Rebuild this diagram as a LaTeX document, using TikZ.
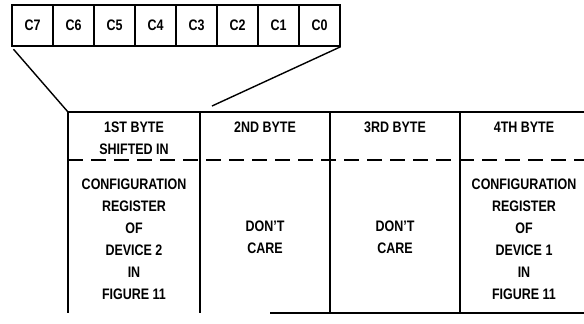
\documentclass[tikz,border=0pt]{standalone}
\usepackage{fontspec}
\setmainfont{Liberation Sans}[FakeStretch=0.82]
\usetikzlibrary{positioning}

\tikzset{
  cell/.style={draw, minimum width=12.3mm, minimum height=12.3mm,
               inner sep=0pt, font=\bfseries\fontsize{13}{13}\selectfont},
  bytetext/.style={font=\bfseries\fontsize{13}{18.7}\selectfont, align=center,
              inner sep=0pt},
  sep/.style={dash pattern=on 4.5mm off 2.4mm}
}

\begin{document}
\begin{tikzpicture}[x=0.3mm, y=-0.3mm, line width=1.2pt]
  % grid in reference pixels: origin top left, y downwards
  \useasboundingbox (0,0) rectangle (584,323);
  \def\cw{41}

  % register C7 ... C0
  \foreach \b in {7,...,0}{
    \node[cell] (c\b) at ({12+\cw*(7-\b)+\cw/2},25.5) {C\b};
  }

  % fan from register to first byte
  \coordinate (tl) at (68,112);
  \coordinate (fan) at (212,106);
  \draw[shorten <=1mm] (c7.south west) -- (tl);
  \draw (c0.south east) -- (fan);

  % table, open on the right
  \draw (tl) -- (584,112);
  \foreach \x in {68,200,330,460}{
    \draw (\x,112) -- (\x,313);
  }
  \draw[sep] (68,160) -- (584,160);
  \draw (270,313) -- (584,313);

  % byte headers
  \node[bytetext] (h1) at (134,138) {1ST BYTE\\SHIFTED IN};
  \node[bytetext] (h2) at (265,127) {2ND BYTE};
  \node[bytetext] (h3) at (395,127) {3RD BYTE};
  \node[bytetext] (h4) at (524,127) {4TH BYTE};

  % byte contents
  \node[bytetext] (b1) at (134,239)
    {CONFIGURATION\\REGISTER\\OF\\DEVICE 2\\IN\\FIGURE 11};
  \node[bytetext] (b2) at (265,237.5) {DON'T\\CARE};
  \node[bytetext] (b3) at (395,237.5) {DON'T\\CARE};
  \node[bytetext] (b4) at (524,239)
    {CONFIGURATION\\REGISTER\\OF\\DEVICE 1\\IN\\FIGURE 11};
\end{tikzpicture}
\end{document}
